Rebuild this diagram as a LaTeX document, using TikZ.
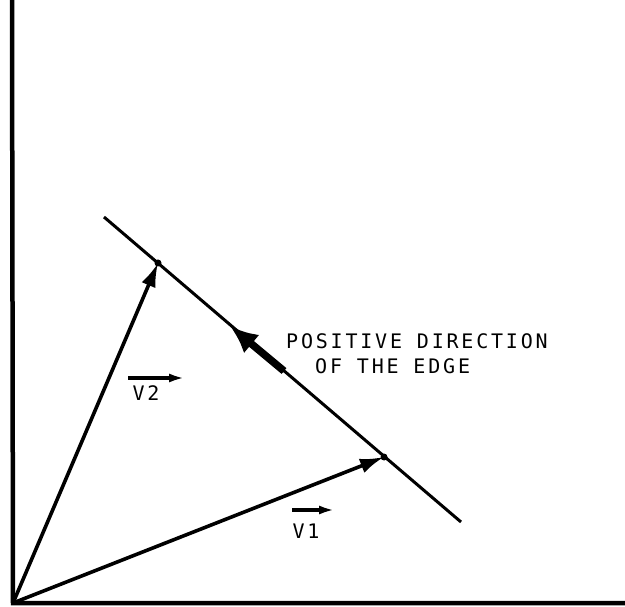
\documentclass[tikz,border=0pt]{standalone}
\usepackage{fontspec}
\newfontfamily\labfont[LetterSpace=14]{DejaVu Sans Mono}
\usetikzlibrary{arrows.meta}
\begin{document}
\begin{tikzpicture}[x=1pt,y=-1pt,
  axis/.style={line width=4.5pt},
  vec/.style={line width=3.6pt,-{Latex[length=24pt,width=15pt]}},
  edgeline/.style={line width=3pt},
  dirarrow/.style={line width=7.5pt,-{Latex[length=28pt,width=24pt]}},
  labarrow/.style={line width=3.5pt,-{Latex[length=16pt,width=9pt]}},
  lab/.style={font=\labfont\fontsize{20}{24}\selectfont,inner sep=0pt}]
\useasboundingbox (0,0) rectangle (625,607);
\coordinate (top) at (12,0);
\coordinate (O) at (13,603);
\coordinate (right) at (625,603);
\coordinate (E1) at (104,217);
\coordinate (E2) at (461,522);
\coordinate (P2) at (158,263);
\coordinate (P1) at (384,457);
\coordinate (DT) at (284,371);
\coordinate (DH) at (230,326);
\coordinate (L2a) at (128,378);
\coordinate (L2b) at (185,378);
\coordinate (L1a) at (292,510);
\coordinate (L1b) at (335,510);
\draw[axis] (top) -- (O) -- (right);
\draw[edgeline] (E1) -- (E2);
\draw[vec] (O) -- (P2);
\draw[vec] (O) -- (P1);
\fill (P2) circle (3.5pt);
\fill (P1) circle (3.5pt);
\draw[dirarrow] (DT) -- (DH);
\draw[labarrow] (L2a) -- (L2b);
\draw[labarrow] (L1a) -- (L1b);
\node[lab] (v2) at (146,393) {V2};
\node[lab] (v1) at (306,531) {V1};
\node[lab,anchor=west] (pos) at (286,341) {POSITIVE DIRECTION};
\node[lab,anchor=west] (edge) at (315,366) {OF THE EDGE};
\end{tikzpicture}
\end{document}
